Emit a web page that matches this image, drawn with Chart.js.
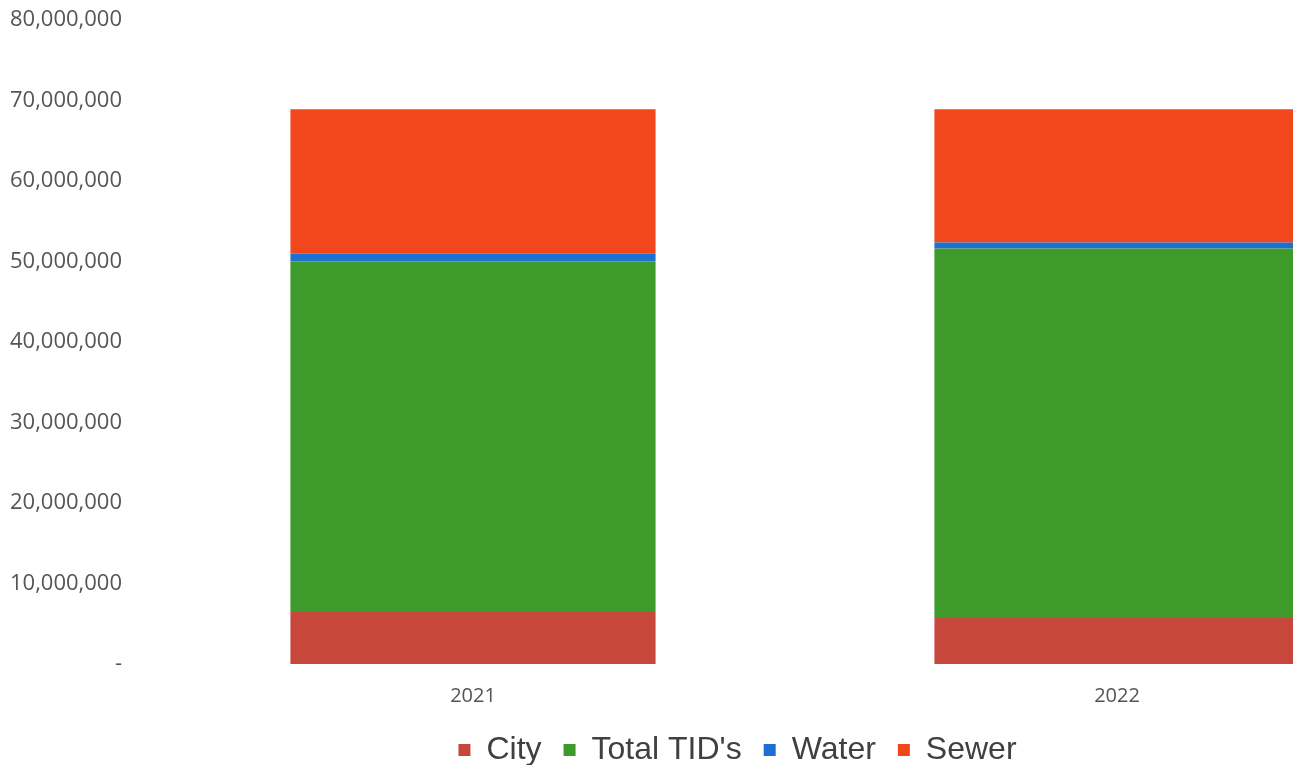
<!DOCTYPE html>
<html>
<head>
<meta charset="utf-8">
<script src="https://cdn.jsdelivr.net/npm/chart.js@4/dist/chart.umd.min.js"></script>
<style>
  html, body { margin: 0; padding: 0; background: #ffffff; overflow: hidden; }
  #frame { position: absolute; left: 0; top: 0; width: 1293px; height: 765px; overflow: hidden; }
  #wrap { position: absolute; left: 0; top: 0; width: 1475px; height: 776px; }
</style>
</head>
<body>
<div id="frame"><div id="wrap"><canvas id="c"></canvas></div></div>
<script>
// Fiscal years on the category axis
const years = ['2021', '2022'];

// Stacked revenue components per year
const city      = [6450000, 5700000];
const totalTIDs = [43550000, 45900000];
const water     = [1000000, 750000];
const sewer     = [17900000, 16550000];

// Value axis range and step
const yMin = 0;
const yMax = 80000000;
const yStep = 10000000;

const colors = {
  city:  '#c8473d',
  tids:  '#3f9a2c',
  water: '#1e6fd2',
  sewer: '#f2471d'
};

const fmt = v => v === 0 ? '-' : v.toLocaleString('en-US');

new Chart(document.getElementById('c'), {
  type: 'bar',
  data: {
    labels: years,
    datasets: [
      { label: 'City',        data: city,      backgroundColor: colors.city },
      { label: "Total TID's", data: totalTIDs, backgroundColor: colors.tids },
      { label: 'Water',       data: water,     backgroundColor: colors.water },
      { label: 'Sewer',       data: sewer,     backgroundColor: colors.sewer }
    ]
  },
  options: {
    responsive: true,
    maintainAspectRatio: false,
    animation: false,
    layout: { padding: 0 },
    datasets: { bar: { categoryPercentage: 1, barPercentage: 0.567, borderWidth: 0 } },
    scales: {
      x: {
        stacked: true,
        grid: { display: false, drawTicks: false },
        border: { display: false },
        ticks: { padding: 20, color: '#555555', font: { family: 'Open Sans', size: 20 } },
        afterFit(scale) {
          scale.height = 48;
          scale.paddingLeft = 0;
          scale.paddingRight = 36;
        }
      },
      y: {
        stacked: true,
        min: yMin,
        max: yMax,
        grid: { display: false, drawTicks: false },
        border: { display: false },
        ticks: {
          stepSize: yStep,
          padding: 29,
          color: '#555555',
          font: { family: 'Open Sans', size: 22 },
          callback: v => fmt(v)
        },
        afterFit(scale) {
          scale.width = 151;
          scale.paddingTop = 20;
          scale.paddingBottom = 0;
        }
      }
    },
    plugins: {
      tooltip: { enabled: false },
      legend: {
        position: 'bottom',
        labels: {
          boxWidth: 12,
          boxHeight: 12,
          padding: 22,
          color: '#404040',
          font: { family: 'Liberation Sans', size: 32 }
        }
      }
    }
  }
});
</script>
</body>
</html>
